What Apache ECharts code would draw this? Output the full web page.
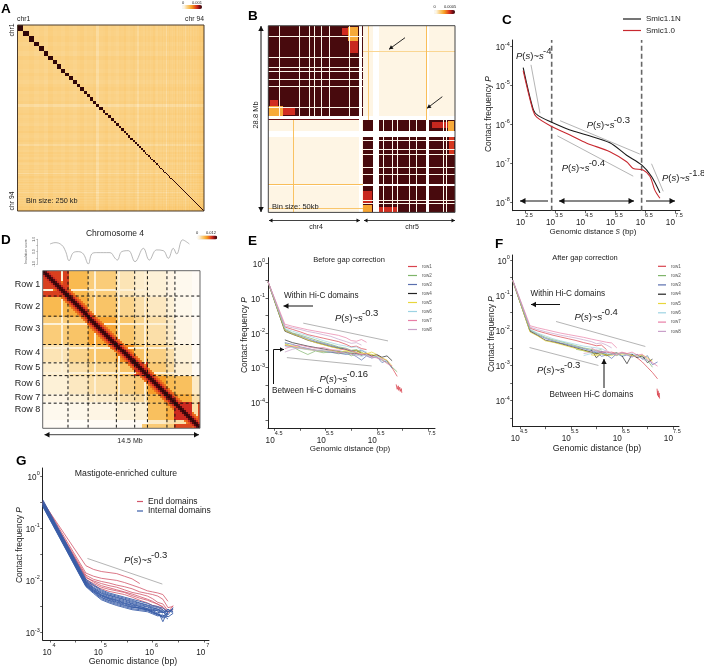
<!DOCTYPE html>
<html>
<head>
<meta charset="utf-8">
<script src="https://cdn.jsdelivr.net/npm/echarts@6/dist/echarts.min.js"></script>
<style>
  html, body { margin: 0; padding: 0; background: #fff; }
  #chart { width: 704px; height: 667px; }
</style>
</head>
<body>
<div id="chart"></div>
<script>
// ---- Panel A: genome wide map, one entry per chromosome
const aChrLength = [5.5,5,5,4.5,4.5,4.2,4,4,3.8,3.8,3.6,3.5,3.4,3.3,3.2,3.1,3,3,2.9,2.8,2.8,2.7,2.6,2.5,2.5,2.4,2.3,2.3,2.2,2.2,2.1,2.1,2,2,1.9,1.9,1.8,1.8,1.7,1.7,1.6,1.6,1.5,1.5,1.5,1.4,1.4,1.3,1.3,1.3,1.2,1.2,1.2,1.1,1.1,1.1,1.1,1,1,1,1,1,1,1,0.9,0.9,0.9,0.9,0.9,0.9,0.9,0.9,0.9,0.9,0.9,0.8,0.8,0.8,0.8,0.8,0.8,0.8,0.8,0.8,0.8,0.8,0.7,0.7,0.7,0.7,0.7,0.7,0.6,0.6];
const aChrLevel = [0.27,0.26,0.28,0.25,0.27,0.24,0.29,0.26,0.27,0.25,0.28,0.26,0.24,0.27,0.29,0.25,0.27,0.26,0.28,0.17,0.26,0.27,0.29,0.25,0.27,0.26,0.24,0.28,0.27,0.3,0.26,0.25,0.27,0.29,0.26,0.19,0.28,0.27,0.25,0.29,0.26,0.28,0.25,0.27,0.3,0.26,0.24,0.28,0.27,0.26,0.29,0.25,0.27,0.18,0.28,0.26,0.3,0.27,0.25,0.28,0.26,0.31,0.27,0.24,0.29,0.26,0.28,0.27,0.3,0.25,0.28,0.2,0.27,0.29,0.26,0.31,0.28,0.25,0.27,0.3,0.26,0.29,0.28,0.31,0.27,0.3,0.29,0.32,0.3,0.33,0.31,0.34,0.36,0.38];
const aDiagLevel = 1;

// ---- Panel B: chr4 + chr5 at 50 kb, 576 bins, rows are [x0, x1, y0, y1, level]
const bTotalBins = 576;
const bChr4End = 291;
const bBlocks = [
  [0,291,0,291,0.96],[291,576,291,576,0.96],[291,576,0,291,0.08],[0,291,291,576,0.08]
];
const bPatches = [
  [228,247,8,30,0.75],[252,276,47,83,0.76],[247,276,3,47,0.44],
  [46,82,250,276,0.74],[5,31,229,248,0.74],[2,46,248,289,0.44],
  [504,553,297,317,0.76],[556,574,342,399,0.72],[553,574,293,324,0.44],
  [293,319,509,551,0.76],[342,399,558,574,0.74],[291,321,553,576,0.46]
];
const bThinGapsChr4 = [32,96,127,140,164,186,250];
const bThinGapsChr5 = [353,381,396,435,456,538,548];
const bWideGaps = [[280,290],[324,342],[487,495]];
const bStreaks = [
  [77,78,291,576,0.34],[0,291,487,488,0.36],[0,291,561,562,0.32],[0,280,289,291,0.9],
  [291,576,77,79,0.24],[486,488,0,291,0.36],[309,310,0,291,0.3]
];

// ---- Panel C
const cBlackX = [2.44,2.78,2.94,3.39,4,4.56,5.33,5.89,6.39,6.72,7];
const cBlackY = [-4.54,-5.63,-5.78,-5.95,-6.15,-6.28,-6.48,-6.8,-7.05,-7.35,-7.77];
const cRedX = [2.44,2.76,2.89,3.39,4,4.56,5.33,5.89,6.11,6.44,6.67,6.83,7];
const cRedY = [-4.62,-5.63,-5.82,-6.06,-6.28,-6.49,-6.71,-6.97,-7.14,-7.18,-7.35,-7.7,-7.91];
const cGuides = [
  [[2.7,-4.47],[3,-5.72]],[[3.67,-5.91],[6.33,-6.77]],[[3.58,-6.3],[6.11,-7.34]],[[6.72,-7.02],[7.11,-7.73]]
];
const cDashX = [3.39,6.39];

// ---- Panel D: chromosome 4 domains
const dBins = 79;
const dEdges = [0,12.7,22.8,37,46.2,52.6,62.4,66.4,75,79];
const dLevels = [
  [0.70,0.38,0.29,0.18,0.14,0.12,0.08,0.05,0.03],
  [0.38,0.42,0.33,0.25,0.20,0.16,0.12,0.06,0.02],
  [0.29,0.33,0.45,0.32,0.25,0.20,0.15,0.08,0.03],
  [0.18,0.25,0.32,0.52,0.33,0.27,0.20,0.12,0.03],
  [0.14,0.20,0.25,0.33,0.72,0.30,0.22,0.13,0.03],
  [0.12,0.16,0.20,0.27,0.30,0.48,0.37,0.35,0.15],
  [0.08,0.12,0.15,0.20,0.22,0.37,0.60,0.42,0.20],
  [0.05,0.06,0.08,0.12,0.13,0.35,0.42,0.75,0.20],
  [0.03,0.02,0.03,0.03,0.03,0.15,0.20,0.20,0.02]
];
const dDiagBand = [1,0.94,0.76,0.64,0.58];
const dPaleBins = [9,26,38,51];
const dStrips = [[66,75,77,78.6,0.68],[78,79,66,75,0.68],[50,66,77,78.6,0.3]];
const dInsulationX = [0.68,1.14,1.75,2.12,2.43,2.83,3.29,3.75,4.21,4.52,4.98,6.2,6.67,6.88,7.28,7.9,8.51,9.28,9.83,10.5,11.12,11.58,12.04,12.35,12.9,13.52];
const dInsulationY = [0.62,0.73,0.54,0,-0.73,-0.08,0,-0.19,-1,-0.19,-0.08,-0.08,-0.54,-0.68,0,0.08,-0.81,0.27,-0.68,0.14,0.08,-0.54,0.27,-0.19,0.95,0.62];
const dRows = ['Row 1','Row 2','Row 3','Row 4','Row 5','Row 6','Row 7','Row 8'];
const dRowY = [285,306.7,329,352.3,367.7,383.3,397.7,410];

// ---- Panels E and F: log10 of P against log10 of distance
const rowNames = ['row1','row2','row3','row4','row5','row6','row7','row8'];
const rowColors = ['#d9434e','#7fb56a','#5a6fae','#222222','#e8d63c','#9dd3e3','#e87ea6','#c9a0c9'];

const eX = [4.37,4.7,4.85,5,5.15,5.3,5.45,5.6,5.75,5.9,6,6.1,6.2,6.3,6.4,6.5,6.6,6.7,6.8,6.9];
const eWithin = [
  [-0.52,-1.83,-1.9,-1.97,-2.05,-2.1,-2.15,-2.2,-2.25,-2.33,-2.4,-2.38,-2.45,-2.48],
  [-0.54,-1.89,-2,-2.06,-2.13,-2.2,-2.27,-2.33,-2.4,-2.44,-2.5,-2.48,-2.55],
  [-0.53,-1.92,-2.02,-2.09,-2.17,-2.24,-2.3,-2.36,-2.42,-2.47,-2.52,-2.55,-2.5,-2.58],
  [-0.54,-1.95,-2.04,-2.12,-2.21,-2.27,-2.33,-2.39,-2.44,-2.48,-2.53,-2.5,-2.58],
  [-0.54,-1.93,-2.03,-2.11,-2.2,-2.28,-2.34,-2.4,-2.45,-2.5,-2.55,-2.5,-2.57,-2.6,-2.55,-2.62],
  [-0.53,-1.87,-1.95,-2.02,-2.08,-2.15,-2.22,-2.28,-2.34,-2.38,-2.42,-2.4,-2.5,-2.55],
  [-0.53,-1.75,-1.81,-1.86,-1.91,-1.95,-1.99,-2.03,-2.07,-2.14,-2.22,-2.24,-2.19,-2.27],
  [-0.53,-1.8,-1.85,-1.9,-1.96,-2,-2.05,-2.1,-2.18,-2.25,-2.3,-2.28,-2.35]
];
const eBetween = [
  [null,-2.36,-2.4,-2.44,-2.47,-2.5,-2.53,-2.55,-2.56,-2.58,-2.6,-2.58,-2.62,-2.6,-2.66,-2.64,-2.72,-2.8,-3,-3.25],
  [null,-2.3,-2.4,-2.52,-2.62,-2.52,-2.57,-2.55,-2.6,-2.57,-2.66,-2.6,-2.55,-2.65,-2.62,-2.7,-2.78,-2.85,-2.98,-3.12],
  [null,-2.28,-2.33,-2.4,-2.45,-2.5,-2.52,-2.56,-2.58,-2.62,-2.6,-2.68,-2.78,-2.66,-2.72,-2.68,-2.85,-2.8,-3.02],
  [null,-2.2,-2.28,-2.33,-2.38,-2.42,-2.46,-2.5,-2.53,-2.55,-2.58,-2.6,-2.64,-2.6,-2.67,-2.62,-2.7,-2.66,-2.8],
  [null,-2.33,-2.37,-2.42,-2.48,-2.5,-2.53,-2.5,-2.55,-2.52,-2.58,-2.55,-2.6,-2.58,-2.62,-2.66,-2.72,-2.78,-2.95],
  [null,-2.38,-2.42,-2.45,-2.48,-2.5,-2.52,-2.55,-2.5,-2.6,-2.55,-2.62,-2.68,-2.62,-2.7,-2.66,-2.75,-2.82],
  [null,-2.45,-2.38,-2.35,-2.4,-2.44,-2.42,-2.48,-2.5,-2.46,-2.52,-2.58,-2.62,-2.6,-2.68,-2.72,-2.76,-2.88,-2.95],
  [null,-2.55,-2.47,-2.42,-2.45,-2.5,-2.48,-2.52,-2.58,-2.55,-2.6,-2.65,-2.6,-2.66,-2.72,-2.7,-2.78]
];
const eTailX = [6.88,6.9,6.92,6.93,6.95,6.96,6.98,6.99];
const eTailY = [-3.48,-3.62,-3.52,-3.65,-3.56,-3.68,-3.6,-3.72];
const eGuides = [[[5.06,-1.72],[6.72,-2.23]],[[4.74,-2.71],[6.4,-2.95]]];

const fX = [4.36,4.7,4.85,5,5.15,5.3,5.45,5.6,5.75,5.9,6,6.1,6.2,6.3,6.4,6.5,6.6,6.7,6.8,6.9,7,7.1,7.2];
const fWithin = [
  [-0.58,-1.94,-2.02,-2.08,-2.14,-2.19,-2.24,-2.29,-2.35,-2.4,-2.44,-2.42,-2.55],
  [-0.59,-1.99,-2.1,-2.2,-2.27,-2.32,-2.38,-2.44,-2.5,-2.54,-2.58,-2.55],
  [-0.58,-2.02,-2.13,-2.23,-2.3,-2.36,-2.41,-2.47,-2.52,-2.58,-2.62,-2.6,-2.66],
  [-0.59,-2.03,-2.15,-2.28,-2.33,-2.38,-2.44,-2.5,-2.56,-2.62,-2.66,-2.64,-2.7],
  [-0.59,-2.05,-2.16,-2.3,-2.34,-2.4,-2.46,-2.52,-2.58,-2.64,-2.68,-2.66,-2.72],
  [-0.58,-1.97,-2.08,-2.16,-2.24,-2.3,-2.35,-2.4,-2.45,-2.48,-2.5,-2.52,-2.6],
  [-0.57,-1.87,-1.93,-1.98,-2.03,-2.08,-2.12,-2.16,-2.2,-2.25,-2.28,-2.31,-2.34,-2.36,-2.5],
  [-0.57,-1.91,-1.98,-2.04,-2.09,-2.14,-2.18,-2.22,-2.27,-2.32,-2.38,-2.36,-2.42,-2.5]
];
const fBetweenFrom = [9,7,9,9,9,8,9,8];
const fBetween = [
  [-2.62,-2.66,-2.6,-2.64,-2.62,-2.66,-2.64,-2.66,-2.7,-2.78,-2.9,-3.05,-3.2,-3.38],
  [-2.54,-2.58,-2.63,-2.68,-2.62,-2.7,-2.66,-2.72,-2.65,-2.68,-2.72,-2.7,-2.76,-2.85,-3.05],
  [-2.68,-2.62,-2.74,-2.7,-2.8,-2.66,-2.74,-2.7,-2.76,-2.68,-2.82,-2.72,-2.98,-2.9],
  [-2.55,-2.78,-2.65,-2.72,-2.68,-2.64,-2.72,-2.95,-2.68,-2.78,-2.72,-2.92,-2.82],
  [-2.7,-2.72,-2.68,-2.7,-2.72,-2.66,-2.7,-2.68,-2.72,-2.74,-2.7,-2.78,-2.88],
  [-2.72,-2.66,-2.6,-2.68,-2.64,-2.7,-2.66,-2.72,-2.68,-2.66,-2.74,-2.8,-2.86],
  [-2.5,-2.58,-2.64,-2.6,-2.66,-2.7,-2.62,-2.66,-2.62,-2.7,-2.68,-2.82,-2.92,-3.02],
  [-2.66,-2.62,-2.55,-2.62,-2.58,-2.65,-2.68,-2.64,-2.7,-2.75,-2.72,-2.8,-2.9]
];
const fTailX = [7.19,7.2,7.21,7.22,7.23,7.24];
const fTailY = [-3.66,-3.85,-3.72,-3.9,-3.78,-3.94];
const fGuides = [[[5.21,-1.75],[6.96,-2.46]],[[4.69,-2.49],[6.04,-3]]];

// ---- Panel G
const gX = [3.86,4.7,4.85,5,5.15,5.3,5.45,5.6,5.75,5.9,6,6.1,6.2,6.3,6.4];
const gEnd = [
  [-0.5,-1.72,-1.79,-1.83,-1.85,-1.87,-1.92,-1.97,-2.06],
  [-0.48,-1.86,-1.92,-1.96,-1.98,-2,-2.04,-2.09,-2.14,-2.2,-2.22,-2.24,-2.27,-2.4],
  [-0.52,-1.9,-1.98,-2.02,-2.05,-2.09,-2.12,-2.16,-2.22,-2.25,-2.27,-2.3,-2.36,-2.52,-2.5],
  [-0.5,-1.95,-2.01,-2.06,-2.1,-2.13,-2.18,-2.23,-2.26,-2.3,-2.35,-2.42,-2.45,-2.58],
  [-0.54,-1.98,-2.06,-2.13,-2.17,-2.2,-2.23,-2.29,-2.34,-2.38,-2.42,-2.45,-2.52,-2.62,-2.48],
  [-0.53,-2.02,-2.1,-2.16,-2.21,-2.24,-2.27,-2.32,-2.38,-2.43,-2.48,-2.5,-2.56],
  [-0.55,-1.93,-2.03,-2.1,-2.14,-2.18,-2.22,-2.26,-2.31,-2.36,-2.4,-2.46,-2.5,-2.6,-2.56]
];
const gInternal = [
  [-0.46,-1.98,-2.08,-2.18,-2.24,-2.28,-2.32,-2.36,-2.4,-2.44,-2.48,-2.5,-2.53,-2.6,-2.56],
  [-0.48,-2,-2.1,-2.2,-2.26,-2.3,-2.34,-2.38,-2.43,-2.47,-2.5,-2.52,-2.56,-2.66,-2.52],
  [-0.5,-2.02,-2.13,-2.22,-2.28,-2.32,-2.36,-2.4,-2.44,-2.48,-2.52,-2.55,-2.62,-2.55,-2.63],
  [-0.5,-2.03,-2.15,-2.24,-2.29,-2.33,-2.37,-2.42,-2.46,-2.5,-2.53,-2.55,-2.58,-2.6,-2.54],
  [-0.52,-2.04,-2.15,-2.25,-2.31,-2.35,-2.39,-2.44,-2.48,-2.51,-2.55,-2.58,-2.62,-2.56,-2.6],
  [-0.52,-2.05,-2.17,-2.27,-2.33,-2.37,-2.41,-2.45,-2.5,-2.54,-2.58,-2.56,-2.6,-2.65],
  [-0.53,-2.06,-2.18,-2.28,-2.34,-2.38,-2.43,-2.47,-2.5,-2.54,-2.56,-2.58,-2.79,-2.58],
  [-0.54,-2.07,-2.19,-2.29,-2.35,-2.39,-2.44,-2.48,-2.53,-2.56,-2.58,-2.62,-2.6,-2.7,-2.63],
  [-0.55,-2.08,-2.2,-2.3,-2.36,-2.41,-2.45,-2.5,-2.53,-2.57,-2.6,-2.64,-2.68,-2.62],
  [-0.56,-2.09,-2.21,-2.32,-2.38,-2.42,-2.47,-2.51,-2.54,-2.56,-2.6,-2.66,-2.7],
  [-0.57,-2.1,-2.22,-2.33,-2.39,-2.44,-2.48,-2.52,-2.52,-2.55,-2.62,-2.64,-2.72,-2.68],
  [-0.58,-2.11,-2.23,-2.35,-2.41,-2.46,-2.5,-2.54,-2.56,-2.58,-2.62,-2.66,-2.7,-2.62],
  [-0.59,-2.12,-2.25,-2.37,-2.43,-2.48,-2.52,-2.56,-2.58,-2.6,-2.64,-2.68,-2.66,-2.74]
];
const gGuide = [[4.73,-1.58],[6.19,-2.07]];

// tick labels
const cXTicks = [2.5,3.5,4.5,5.5,6.5,7.5];
const cYTicks = [-4,-5,-6,-7,-8];
const efXTicks = [4.5,5.5,6.5,7.5];
const efXMinor = [4.5,5,5.5,6,6.5,7,7.5];
const efYTicks = [0,-1,-2,-3,-4];
const efYMinor = [0,-0.5,-1,-1.5,-2,-2.5,-3,-3.5,-4,-4.5];
const gXTicks = [4,5,6,7];
const gXMinor = [4,4.5,5,5.5,6,6.5,7];
const gYTicks = [0,-1,-2,-3];
const gYMinor = [0,-0.5,-1,-1.5,-2,-2.5,-3];

const FONT = 'Liberation Sans';
const TICK_SIZE = 8.2;
const TITLE_SIZE = 8.4;
const heatColors = ['#ffffff','#fdf0d5','#fad48c','#f9bb52','#f59a23','#e8601c','#cf2a20','#7c1016','#300709'];

// ---- build the heat map rows
function buildA() {
  const rows = [];
  const edges = [0];
  aChrLength.forEach(l => edges.push(edges[edges.length - 1] + l));
  for (let i = 0; i < aChrLength.length; i++) {
    for (let j = 0; j < aChrLength.length; j++) {
      if (i === j) continue;
      rows.push([edges[i], edges[i + 1], edges[j], edges[j + 1], (aChrLevel[i] + aChrLevel[j]) / 2]);
    }
  }
  for (let i = 0; i < aChrLength.length; i++) {
    rows.push([edges[i], edges[i + 1], edges[i], edges[i + 1], aDiagLevel]);
  }
  return { rows, total: edges[edges.length - 1] };
}

function buildB() {
  const rows = bBlocks.concat(bPatches);
  const n = bTotalBins;
  bThinGapsChr4.forEach(g => {
    rows.push([g, g + 2, 0, bChr4End, 0.06]);
    rows.push([0, bChr4End, g, g + 2, 0.06]);
  });
  bThinGapsChr5.forEach(g => {
    rows.push([g, g + 2, bChr4End, n, 0.06]);
    rows.push([bChr4End, n, g, g + 2, 0.06]);
  });
  bWideGaps.forEach(g => {
    rows.push([g[0], g[1], 0, n, 0]);
    rows.push([0, n, g[0], g[1], 0]);
  });
  return rows.concat(bStreaks);
}

function buildD() {
  const rows = [];
  const domainOf = b => {
    for (let k = 0; k < dEdges.length - 1; k++) {
      if (b + 0.5 < dEdges[k + 1]) return k;
    }
    return dEdges.length - 2;
  };
  for (let i = 0; i < dBins; i++) {
    for (let j = 0; j < dBins; j++) {
      let v = dLevels[domainOf(i)][domainOf(j)];
      if (dPaleBins.includes(i) || dPaleBins.includes(j)) v = Math.min(v, 0.12);
      const off = Math.abs(i - j);
      if (off < dDiagBand.length) v = Math.max(v, dDiagBand[off]);
      rows.push([i, i + 1, j, j + 1, v]);
    }
  }
  return rows.concat(dStrips);
}

function rectItem(params, api) {
  const a = api.coord([api.value(0), api.value(2)]);
  const b = api.coord([api.value(1), api.value(3)]);
  const x = Math.round(Math.min(a[0], b[0]));
  const y = Math.round(Math.min(a[1], b[1]));
  const w = Math.max(1, Math.round(Math.max(a[0], b[0])) - x);
  const h = Math.max(1, Math.round(Math.max(a[1], b[1])) - y);
  return { type: 'rect', shape: { x, y, width: w, height: h }, style: { fill: api.visual('color') } };
}

function heatSeries(panel, rows) {
  return {
    type: 'custom', coordinateSystem: 'cartesian2d', xAxisIndex: panel, yAxisIndex: panel,
    renderItem: rectItem, data: rows, encode: { x: [0, 1], y: [2, 3] },
    silent: true, animation: false, progressive: 0
  };
}

function pairs(xs, ys, from) {
  const start = from || 0;
  return ys.map((y, i) => [xs[start + i], y]);
}

function line(panel, name, data, color, width, extra) {
  return Object.assign({
    type: 'line', name, data, xAxisIndex: panel, yAxisIndex: panel,
    showSymbol: false, symbol: 'none', silent: true, animation: false, progressive: 0,
    lineStyle: { color, width }, itemStyle: { color }
  }, extra || {});
}

// ---- axes
function hiddenAxis(panel, max, inverse) {
  return { type: 'value', gridIndex: panel, min: 0, max, inverse: !!inverse, show: false };
}

function plotX(panel, min, max, ticks, minor, noBase, padE, padB) {
  return {
    type: 'value', gridIndex: panel, min, max, splitLine: { show: false },
    axisLine: { onZero: false, lineStyle: { color: '#222', width: 1 } },
    axisTick: { customValues: minor, length: 2.5, lineStyle: { color: '#222', width: 0.7 } },
    axisLabel: {
      customValues: ticks, margin: 2, hideOverlap: false,
      formatter: v => (noBase && noBase.includes(v)) ? `{e|${v}}\n{n| }` : `{e|${v}}\n{b|10}`,
      rich: {
        e: { fontSize: 5.5, fontFamily: FONT, color: '#222', padding: [0, 0, 0, padE || 8], lineHeight: 6 },
        b: { fontSize: TICK_SIZE, fontFamily: FONT, color: '#222', padding: [0, padB || 9, 0, 0], lineHeight: 9 },
        n: { fontSize: TICK_SIZE, lineHeight: 9 }
      }
    }
  };
}

function plotY(panel, min, max, ticks, minor) {
  return {
    type: 'value', gridIndex: panel, min, max, splitLine: { show: false },
    axisLine: { onZero: false, lineStyle: { color: '#222', width: 1 } },
    axisTick: { customValues: minor, length: 2.5, lineStyle: { color: '#222', width: 0.7 } },
    axisLabel: {
      customValues: ticks, margin: 3, hideOverlap: false,
      formatter: v => `{b|10}{e|${v}}`,
      rich: {
        b: { fontSize: TICK_SIZE, fontFamily: FONT, color: '#222', padding: [3, 0, 0, 0] },
        e: { fontSize: 5.5, fontFamily: FONT, color: '#222', verticalAlign: 'top', padding: [0, 0, 4, 0] }
      }
    }
  };
}

// ---- annotation layer
function txt(x, y, text, o) {
  o = o || {};
  const align = o.align || 'left';
  return {
    type: 'text', x, y, rotation: o.rotation || 0, z: 100, silent: true,
    style: {
      text, align, textAlign: align, verticalAlign: 'middle', textVerticalAlign: 'middle',
      fontSize: o.size || 8, fontFamily: FONT, fontWeight: o.weight || 'normal',
      fill: o.color || '#222', rich: o.rich
    }
  };
}

const titleRich = {
  i: { fontSize: TITLE_SIZE, fontFamily: FONT, fontStyle: 'italic', fill: '#222', color: '#222' }
};

function powerLaw(x, y, exp) {
  const s = 9.5;
  return [
    txt(x, y, '{i|P}{n|(}{i|s}{n|)~}{i|s}', {
      size: s,
      rich: {
        i: { fontSize: s, fontFamily: FONT, fontStyle: 'italic', color: '#222', fill: '#222' },
        n: { fontSize: s, fontFamily: FONT, color: '#222', fill: '#222' }
      }
    }),
    txt(x + 27, y - 5, exp, { size: 9.5 })
  ];
}

function arrow(x1, y1, x2, y2, both, width, head) {
  const w = width || 1, h = head || 5;
  const ang = Math.atan2(y2 - y1, x2 - x1);
  const tri = (px, py, a) => ({
    type: 'polygon', z: 100, silent: true,
    shape: { points: [
      [px, py],
      [px - h * Math.cos(a) - h * 0.55 * Math.sin(a), py - h * Math.sin(a) + h * 0.55 * Math.cos(a)],
      [px - h * Math.cos(a) + h * 0.55 * Math.sin(a), py - h * Math.sin(a) - h * 0.55 * Math.cos(a)]
    ] },
    style: { fill: '#111' }
  });
  const out = [
    { type: 'line', z: 100, silent: true, shape: { x1, y1, x2, y2 }, style: { stroke: '#111', lineWidth: w } },
    tri(x2, y2, ang)
  ];
  if (both) out.push(tri(x1, y1, ang + Math.PI));
  return out;
}

function frame(x, y, w, h, color) {
  return { type: 'rect', z: 99, silent: true, shape: { x, y, width: w, height: h }, style: { fill: 'none', stroke: color, lineWidth: 1 } };
}

// ---- assemble
const panelA = buildA();

const grids = [
  { left: 17.5, top: 25, width: 186.5, height: 186 },
  { left: 268.3, top: 25.7, width: 186.7, height: 186.7 },
  { left: 512.7, top: 40, width: 167.3, height: 170.7 },
  { left: 42.7, top: 239.3, width: 157.3, height: 24.7 },
  { left: 42.7, top: 270.7, width: 157.3, height: 157.6 },
  { left: 268, top: 257.7, width: 167, height: 170.6 },
  { left: 512.7, top: 255, width: 166.3, height: 171.7 },
  { left: 42.7, top: 468, width: 166.3, height: 172 }
];

const xAxes = [
  hiddenAxis(0, panelA.total),
  hiddenAxis(1, bTotalBins),
  plotX(2, 2.09, 7.67, cXTicks, cXTicks),
  { type: 'value', gridIndex: 3, min: 0, max: 14.5, show: false },
  hiddenAxis(4, dBins),
  plotX(5, 4.37, 7.64, efXTicks, efXMinor, [7.5]),
  plotX(6, 4.36, 7.62, efXTicks, efXMinor),
  plotX(7, 3.857, 7.1, gXTicks, gXMinor, null, 8, 6)
];

const yAxes = [
  hiddenAxis(0, panelA.total, true),
  hiddenAxis(1, bTotalBins, true),
  plotY(2, -8.23, -3.83, cYTicks, cYTicks),
  {
    type: 'value', gridIndex: 3, min: -1, max: 1, offset: 5, splitLine: { show: false },
    axisLine: { onZero: false, lineStyle: { color: '#888', width: 0.5 } },
    axisTick: { customValues: [-1, -0.5, 0, 0.5, 1], length: 1.5, lineStyle: { color: '#888', width: 0.5 } },
    axisLabel: {
      customValues: [-1, 0, 1], margin: 1.5, fontSize: 3.5, fontFamily: FONT, color: '#555', rotate: 90,
      formatter: v => v.toFixed(1)
    }
  },
  hiddenAxis(4, dBins, true),
  plotY(5, -4.74, 0.16, efYTicks, efYMinor),
  plotY(6, -4.74, 0.14, efYTicks, efYMinor),
  plotY(7, -3.14, 0.15, gYTicks, gYMinor)
];

const series = [
  heatSeries(0, panelA.rows),
  heatSeries(1, buildB()),
  heatSeries(4, buildD())
];

// panel C
cGuides.forEach(g => series.push(line(2, 'guide', g, '#b5b5b5', 1)));
cDashX.forEach(x => series.push(line(2, 'boundary', [[x, -8.23], [x, -3.83]], '#666', 1.6, {
  lineStyle: { color: '#666', width: 1.6, type: [5, 3] }
})));
series.push(line(2, 'Smic1.1N', pairs(cBlackX, cBlackY), '#1a1a1a', 1.1, { smooth: 0.3 }));
series.push(line(2, 'Smic1.0', pairs(cRedX, cRedY), '#c8282f', 1.1, { smooth: 0.3 }));

// panel D
series.push(line(3, 'insulation', pairs(dInsulationX, dInsulationY), '#999', 0.7, { smooth: 0.4 }));
dEdges.slice(1, 8).forEach(e => {
  const dashed = { lineStyle: { color: '#111', width: 1, type: [3, 2.5] } };
  series.push(line(4, 'domain', [[e, 0], [e, dBins]], '#111', 1, dashed));
  series.push(line(4, 'domain', [[0, e], [dBins, e]], '#111', 1, dashed));
});

// panel E
eGuides.forEach(g => series.push(line(5, 'guide', g, '#b5b5b5', 1)));
rowNames.forEach((n, i) => {
  series.push(line(5, n, pairs(eX, eWithin[i]), rowColors[i], 0.7));
  series.push(line(5, n, pairs(eX, eBetween[i]), rowColors[i], 0.7));
});
series.push(line(5, 'row1', pairs(eTailX, eTailY), rowColors[0], 0.8));

// panel F
fGuides.forEach(g => series.push(line(6, 'guide', g, '#b5b5b5', 1)));
rowNames.forEach((n, i) => {
  series.push(line(6, n, pairs(fX, fWithin[i]), rowColors[i], 0.7));
  series.push(line(6, n, pairs(fX, fBetween[i], fBetweenFrom[i]), rowColors[i], 0.7));
});
series.push(line(6, 'row1', pairs(fTailX, fTailY), rowColors[0], 0.8));

// panel G
series.push(line(7, 'guide', gGuide, '#b5b5b5', 1));
gEnd.forEach(l => series.push(line(7, 'End domains', pairs(gX, l), '#d2566a', 0.8)));
gInternal.forEach(l => series.push(line(7, 'Internal domains', pairs(gX, l), '#3a5ea8', 0.9)));

function legendFor(names, left, top, size, itemWidth, gap, color) {
  return {
    data: names, left, top, orient: 'vertical', padding: 0, itemGap: gap, itemWidth, itemHeight: 1.2,
    selectedMode: false, icon: 'rect',
    textStyle: { fontSize: size, fontFamily: FONT, color: color || '#222' }
  };
}

const legends = [
  legendFor(['Smic1.1N', 'Smic1.0'], 623, 15, 8, 18, 3.5),
  legendFor(rowNames, 408, 264, 4.5, 9, 4, '#555'),
  legendFor(rowNames, 658, 263.8, 4.5, 8, 4.3, '#555'),
  legendFor(['End domains', 'Internal domains'], 137, 497, 8.5, 6, 0.5)
];

const colorBar = (left, top, length, idx) => ({
  type: 'continuous', seriesIndex: idx, dimension: 4, min: 0, max: 1, orient: 'horizontal',
  left, top, itemWidth: 4, itemHeight: length, calculable: false, hoverLink: false, padding: 0,
  inRange: { color: heatColors }
});

const graphics = [
  txt(1, 9, 'A', { size: 13.5, weight: 'bold', color: '#000' }),
  txt(248, 16, 'B', { size: 13.5, weight: 'bold', color: '#000' }),
  txt(502, 20, 'C', { size: 13.5, weight: 'bold', color: '#000' }),
  txt(1, 240, 'D', { size: 13.5, weight: 'bold', color: '#000' }),
  txt(248, 241, 'E', { size: 13.5, weight: 'bold', color: '#000' }),
  txt(495, 244, 'F', { size: 13.5, weight: 'bold', color: '#000' }),
  txt(16, 461, 'G', { size: 13.5, weight: 'bold', color: '#000' }),

  // A
  frame(17.5, 25, 186.5, 186, '#4a3a2a'),
  txt(17, 19.5, 'chr1', { size: 6.8 }),
  txt(204, 19.5, 'chr 94', { size: 6.8, align: 'right' }),
  txt(12.5, 30, 'chr1', { size: 6.8, rotation: Math.PI / 2, align: 'center' }),
  txt(12.5, 201, 'chr 94', { size: 6.8, rotation: Math.PI / 2, align: 'center' }),
  txt(26, 200.5, 'Bin size: 250 kb', { size: 7.3 }),
  txt(183, 2.5, '0', { size: 4, align: 'center' }),
  txt(197, 2.5, '0.001', { size: 4, align: 'center' }),

  // B
  frame(268.3, 25.7, 186.7, 186.7, '#444'),
  txt(255.5, 115, '28.8 Mb', { size: 7.5, rotation: Math.PI / 2, align: 'center' }),
  txt(272, 206.5, 'Bin size: 50kb', { size: 7.5 }),
  txt(316, 227.5, 'chr4', { size: 7, align: 'center' }),
  txt(412, 227.5, 'chr5', { size: 7, align: 'center' }),
  txt(434.5, 6.5, '0', { size: 4, align: 'center' }),
  txt(450, 6.5, '0.0005', { size: 4, align: 'center' }),

  // C
  txt(489, 114, 'Contact frequency {i|P}', { size: TITLE_SIZE, align: 'center', rotation: Math.PI / 2, rich: titleRich }),
  txt(593, 231.5, 'Genomic distance {i|s} (bp)', { size: 8, align: 'center', rich: titleRich }),

  // D
  txt(115, 234, 'Chromosome 4', { size: 8.5, align: 'center' }),
  txt(26, 251.5, 'Insulation score', { size: 3.5, align: 'center', rotation: Math.PI / 2, color: '#555' }),
  txt(197, 232.5, '0', { size: 4, align: 'center' }),
  txt(211, 232.5, '0.012', { size: 4, align: 'center' }),
  frame(42.7, 270.7, 157.3, 157.6, '#666'),
  txt(130, 441.5, '14.5 Mb', { size: 7, align: 'center' }),

  // E
  txt(349, 259.5, 'Before gap correction', { size: 7.5, align: 'center' }),
  txt(244.5, 335, 'Contact frequency {i|P}', { size: TITLE_SIZE, align: 'center', rotation: Math.PI / 2, rich: titleRich }),
  txt(350, 449, 'Genomic distance (bp)', { size: 8, align: 'center' }),
  txt(284, 296, 'Within Hi-C domains', { size: 8.2 }),
  txt(272, 391, 'Between Hi-C domains', { size: 8.2 }),

  // F
  txt(585, 257.5, 'After gap correction', { size: 7.5, align: 'center' }),
  txt(491.5, 334, 'Contact frequency {i|P}', { size: TITLE_SIZE, align: 'center', rotation: Math.PI / 2, rich: titleRich }),
  txt(597, 449, 'Genomic distance (bp)', { size: 8.8, align: 'center' }),
  txt(530.5, 294, 'Within Hi-C domains', { size: 8.2 }),
  txt(549.5, 395, 'Between Hi-C domains', { size: 8.2 }),

  // G
  txt(126, 473.5, 'Mastigote-enriched culture', { size: 8.7, align: 'center' }),
  txt(19.5, 545, 'Contact frequency {i|P}', { size: TITLE_SIZE, align: 'center', rotation: Math.PI / 2, rich: titleRich }),
  txt(133, 662, 'Genomic distance (bp)', { size: 8.8, align: 'center' })
];

dRows.forEach((r, i) => graphics.push(txt(14.7, dRowY[i], r, { size: 9 })));

[
  [516, 56, '-4'], [586.7, 125, '-0.3'], [561.7, 168, '-0.4'], [662, 178, '-1.8'],
  [335, 318, '-0.3'], [319.5, 379, '-0.16'],
  [574.5, 317, '-0.4'], [537, 370, '-0.3'],
  [124, 560.5, '-0.3']
].forEach(p => graphics.push(...powerLaw(p[0], p[1], p[2])));

graphics.push(
  ...arrow(261, 26, 261, 212, true, 1, 5),
  ...arrow(269, 220.5, 360, 220.5, true, 0.8, 3.5),
  ...arrow(364, 220.5, 455, 220.5, true, 0.8, 3.5),
  ...arrow(405, 37.7, 389, 49.3, false, 0.9, 4),
  ...arrow(442.3, 96.7, 427, 108.3, false, 0.9, 4),
  ...arrow(548, 201, 520, 201, false, 1, 5.5),
  ...arrow(559, 201, 634, 201, true, 1, 5.5),
  ...arrow(646, 201, 675, 201, false, 1, 5.5),
  ...arrow(44.5, 434.7, 199, 434.7, true, 0.8, 5),
  ...arrow(313, 306, 283.5, 306, false, 1, 5),
  ...arrow(273.5, 349.5, 284, 349.5, false, 1, 4),
  ...arrow(560, 304.5, 531, 304.5, false, 1, 5),
  ...arrow(604, 388, 604, 359, false, 1, 5)
);
graphics.push({ type: 'line', z: 100, silent: true, shape: { x1: 273.5, y1: 384, x2: 273.5, y2: 349.5 }, style: { stroke: '#111', lineWidth: 1 } });

const chart = echarts.init(document.getElementById('chart'), null, { renderer: 'canvas' });
chart.setOption({
  animation: false,
  backgroundColor: '#fff',
  grid: grids,
  xAxis: xAxes,
  yAxis: yAxes,
  legend: legends,
  visualMap: [colorBar(182, 5, 20, 0), colorBar(434, 10, 21, 1), colorBar(196.7, 235.5, 20.5, 2)],
  series,
  graphic: graphics
});
</script>
</body>
</html>
